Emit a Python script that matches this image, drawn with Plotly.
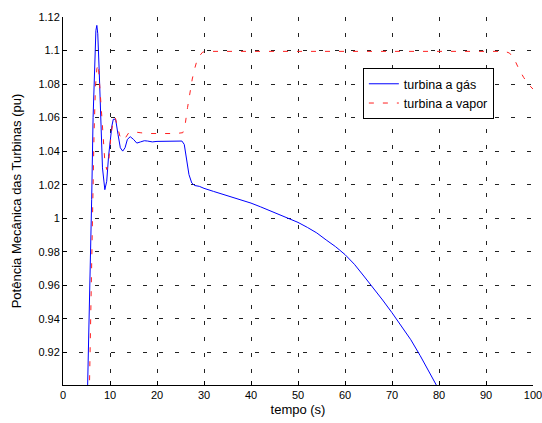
import plotly.graph_objects as go

# Gas turbine (blue, solid)
gas_t = [5.2, 5.6, 5.9, 6.1, 6.4, 6.7, 7.0, 7.2, 7.4, 7.7, 8.0, 8.4, 8.9, 9.3, 9.7,
         10.0, 10.4, 10.7, 11.2, 11.7, 12.2, 12.7, 13.2, 13.7, 14.3, 15.0, 15.7,
         16.5, 17.3, 18.0, 19.0, 20.0, 22.0, 24.0, 25.3, 25.8, 26.3, 26.8, 27.4,
         28.0, 29.0, 30, 32, 34, 36, 38, 40, 42, 44, 46, 48, 50, 52, 54, 56, 58,
         60, 62, 64, 66, 68, 70, 72, 74, 76, 78, 79.6, 80.5]
gas_p = [0.895, 0.94, 0.98, 1.011, 1.06, 1.095, 1.112, 1.115, 1.110, 1.088, 1.06,
         1.03, 1.017, 1.022, 1.037, 1.047, 1.055, 1.059, 1.059, 1.050, 1.042, 1.040,
         1.042, 1.047, 1.0486, 1.047, 1.0448, 1.0455, 1.0462, 1.046, 1.0455, 1.0458,
         1.046, 1.0458, 1.046, 1.044, 1.036, 1.026, 1.021, 1.0195, 1.019, 1.0178,
         1.0160, 1.0143, 1.0128, 1.0110, 1.0090, 1.0068, 1.0045, 1.002, 0.9997,
         0.9975, 0.9945, 0.9912, 0.9870, 0.9830, 0.9783, 0.9725, 0.9655, 0.9585,
         0.9512, 0.9436, 0.9358, 0.9275, 0.9180, 0.9080, 0.900, 0.895]

# Steam turbine (red, dashed)
steam_t = [5.6, 6.0, 6.3, 6.6, 6.9, 7.2, 7.5, 7.8, 8.1, 8.5, 8.9, 9.3, 9.7, 10.2,
           10.6, 11.1, 11.6, 12.1, 12.7, 13.3, 14.0, 15, 16.4, 18, 20, 22, 24, 25.5,
           26.0, 26.5, 27.0, 27.5, 28.0, 28.5, 29.1, 29.7, 30.5, 40, 50, 60, 70, 80,
           90, 94, 95, 96, 97, 98, 99, 100]
steam_p = [0.895, 0.96, 1.01, 1.05, 1.078, 1.089, 1.092, 1.080, 1.064, 1.047, 1.034,
           1.029, 1.033, 1.049, 1.057, 1.060, 1.055, 1.049, 1.0465, 1.048, 1.051,
           1.0515, 1.051, 1.0505, 1.0505, 1.0505, 1.0505, 1.051, 1.056, 1.066, 1.075,
           1.083, 1.089, 1.094, 1.097, 1.099, 1.0995, 1.0995, 1.0995, 1.0995, 1.0995,
           1.0995, 1.0995, 1.0995, 1.0985, 1.095, 1.089, 1.084, 1.080, 1.077]

x_ticks = [0, 10, 20, 30, 40, 50, 60, 70, 80, 90, 100]
y_ticks = [0.92, 0.94, 0.96, 0.98, 1.00, 1.02, 1.04, 1.06, 1.08, 1.10, 1.12]
y_labels = ["0.92", "0.94", "0.96", "0.98", "1", "1.02", "1.04", "1.06", "1.08", "1.1", "1.12"]

font = "Liberation Sans, Arial, sans-serif"

fig = go.Figure()
fig.add_trace(go.Scatter(x=gas_t, y=gas_p, mode="lines", name="turbina a gás",
                         line=dict(color="#0000ff", width=1)))
fig.add_trace(go.Scatter(x=steam_t, y=steam_p, mode="lines", name="turbina a vapor",
                         line=dict(color="#ff2020", width=1, dash="5px,9px")))

fig.update_layout(
    width=542, height=423,
    margin=dict(l=63, r=9, t=17, b=38),
    paper_bgcolor="white", plot_bgcolor="white",
    font=dict(family=font, size=11, color="black"),
    showlegend=True,
    legend=dict(x=0.638, y=0.861, xanchor="left", yanchor="top",
                bgcolor="white", bordercolor="black", borderwidth=1,
                font=dict(size=12.5), itemwidth=30, tracegroupgap=0),
)
fig.update_xaxes(
    range=[0, 100], tickvals=x_ticks, ticks="inside", ticklen=4, tickcolor="black",
    showline=True, linecolor="black", linewidth=1, mirror=False,
    showgrid=True, gridcolor="#222", griddash="4px,12px", gridwidth=1,
    zeroline=False, title=dict(text="tempo (s)", standoff=4), automargin=False,
    tickfont=dict(size=11), ticklabeloverflow="allow",
)
fig.update_yaxes(
    range=[0.9005, 1.12], tickvals=y_ticks, ticktext=y_labels, ticks="inside",
    ticklen=4, tickcolor="black",
    showline=True, linecolor="black", linewidth=1, mirror=False,
    showgrid=True, gridcolor="#222", griddash="4px,12px", gridwidth=1,
    zeroline=False, title=dict(text="Potência Mecânica das Turbinas (pu)", standoff=13),
    automargin=False, tickfont=dict(size=11), ticklabeloverflow="allow",
)

fig.write_html("out.html", config={"displayModeBar": False},
               post_script="document.body.style.margin='0';")
